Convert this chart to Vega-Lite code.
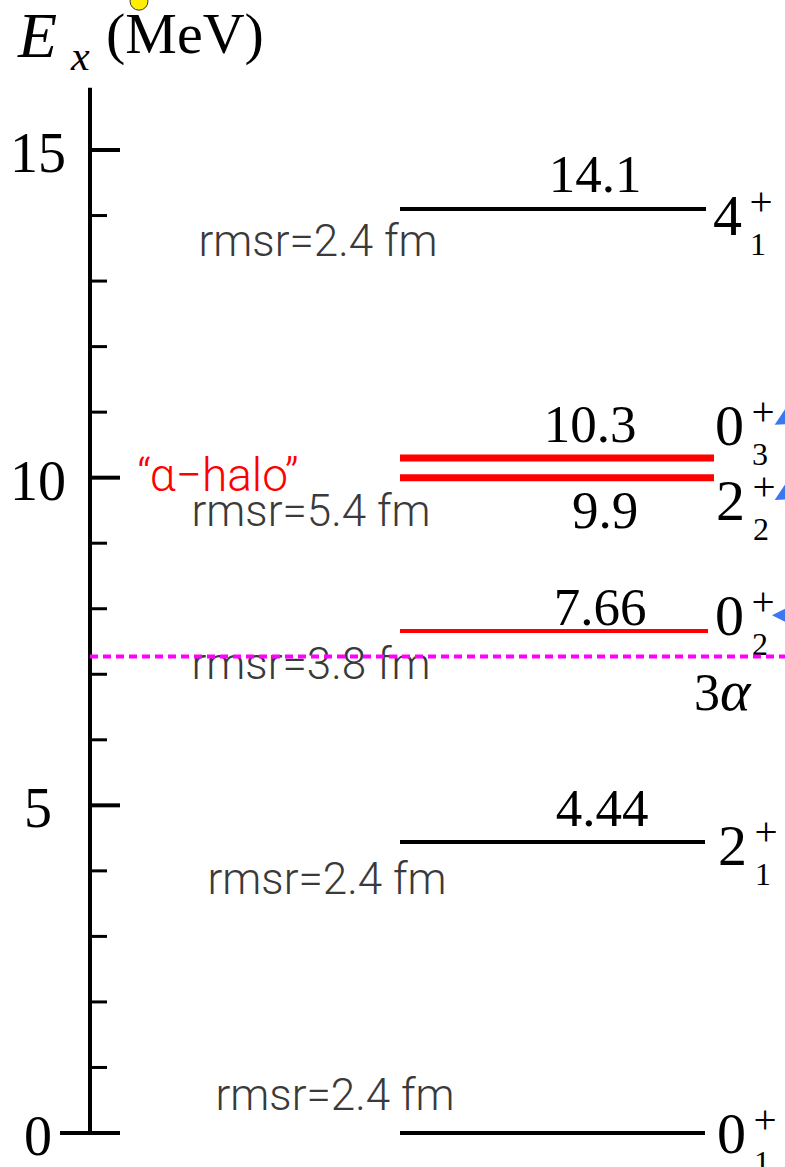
{
  "$schema": "https://vega.github.io/schema/vega-lite/v6.json",
  "width": 785,
  "height": 1167,
  "autosize": {"type": "none"},
  "padding": 0,
  "background": "white",
  "config": {"view": {"stroke": null}},
  "datasets": {
    "levels": [
      {"state": "0_1+", "E": 0, "xs": 400, "xe": 705, "group": "compact"},
      {"state": "2_1+", "E": 4.44, "xs": 400, "xe": 705, "group": "compact"},
      {"state": "0_2+", "E": 7.66, "xs": 400, "xe": 708, "group": "hoyle"},
      {"state": "2_2+", "E": 10.0, "xs": 400, "xe": 714, "group": "halo"},
      {"state": "0_3+", "E": 10.3, "xs": 400, "xe": 714, "group": "halo"},
      {"state": "4_1+", "E": 14.1, "xs": 400, "xe": 706, "group": "compact"}
    ],
    "values": [
      {"text": "14.1", "E": 14.36, "x": 595},
      {"text": "10.3", "E": 10.54, "x": 590},
      {"text": "9.9", "E": 9.23, "x": 605},
      {"text": "7.66", "E": 7.75, "x": 600},
      {"text": "4.44", "E": 4.68, "x": 602}
    ],
    "spins": [
      {"J": "4", "n": "1", "E": 13.70, "x": 713},
      {"J": "0", "n": "3", "E": 10.50, "x": 715},
      {"J": "2", "n": "2", "E": 9.35, "x": 716},
      {"J": "0", "n": "2", "E": 7.60, "x": 715},
      {"J": "2", "n": "1", "E": 4.09, "x": 718},
      {"J": "0", "n": "1", "E": -0.30, "x": 717}
    ],
    "rmsr": [
      {"text": "rmsr=2.4  fm", "E": 13.58, "x": 318},
      {"text": "rmsr=5.4  fm", "E": 9.46, "x": 311},
      {"text": "rmsr=3.8  fm", "E": 7.13, "x": 311},
      {"text": "rmsr=2.4  fm", "E": 3.85, "x": 327},
      {"text": "rmsr=2.4  fm", "E": 0.55, "x": 335}
    ],
    "major": [
      {"v": 0, "lab": "0", "from": 60},
      {"v": 5, "lab": "5", "from": 90},
      {"v": 10, "lab": "10", "from": 90},
      {"v": 15, "lab": "15", "from": 90}
    ],
    "minor": [{"v": 1}, {"v": 2}, {"v": 3}, {"v": 4}, {"v": 6}, {"v": 7}, {"v": 8}, {"v": 9}, {"v": 11}, {"v": 12}, {"v": 13}, {"v": 14}],
    "arrows": [
      {"E": 10.96, "x": 792, "dir": "down"},
      {"E": 9.81, "x": 792, "dir": "down"},
      {"E": 7.90, "x": 792, "dir": "left"}
    ]
  },
  "layer": [
    {
      "data": {"values": [{"x": 90, "E0": 0, "E1": 15.95}]},
      "mark": {"type": "rule", "strokeWidth": 4, "color": "black"},
      "encoding": {
        "x": {"field": "x", "type": "quantitative", "scale": {"domain": [0, 785]}, "axis": null},
        "y": {"field": "E0", "type": "quantitative", "scale": {"domain": [-0.5188, 17.289]}, "axis": null},
        "y2": {"field": "E1"}
      }
    },
    {
      "data": {"name": "major"},
      "mark": {"type": "rule", "strokeWidth": 4, "color": "black"},
      "encoding": {
        "x": {"field": "from", "type": "quantitative", "scale": {"domain": [0, 785]}, "axis": null},
        "x2": {"datum": 120},
        "y": {"field": "v", "type": "quantitative", "scale": {"domain": [-0.5188, 17.289]}, "axis": null}
      }
    },
    {
      "data": {"name": "minor"},
      "mark": {"type": "rule", "strokeWidth": 3, "color": "black"},
      "encoding": {
        "x": {"datum": 90, "type": "quantitative", "scale": {"domain": [0, 785]}, "axis": null},
        "x2": {"datum": 107},
        "y": {"field": "v", "type": "quantitative", "scale": {"domain": [-0.5188, 17.289]}, "axis": null}
      }
    },
    {
      "data": {"name": "major"},
      "mark": {"type": "text", "font": "Liberation Serif", "fontSize": 56, "align": "center", "baseline": "middle", "dy": 5, "color": "black"},
      "encoding": {
        "x": {"datum": 38, "type": "quantitative", "scale": {"domain": [0, 785]}, "axis": null},
        "y": {"field": "v", "type": "quantitative", "scale": {"domain": [-0.5188, 17.289]}, "axis": null},
        "text": {"field": "lab"}
      }
    },
    {
      "data": {"name": "levels"},
      "transform": [{"filter": "datum.group === 'compact'"}],
      "mark": {"type": "rule", "strokeWidth": 4, "color": "black"},
      "encoding": {
        "x": {"field": "xs", "type": "quantitative", "scale": {"domain": [0, 785]}, "axis": null},
        "x2": {"field": "xe"},
        "y": {"field": "E", "type": "quantitative", "scale": {"domain": [-0.5188, 17.289]}, "axis": null}
      }
    },
    {
      "data": {"name": "levels"},
      "transform": [{"filter": "datum.group === 'hoyle'"}],
      "mark": {"type": "rule", "strokeWidth": 4, "color": "#ff0000"},
      "encoding": {
        "x": {"field": "xs", "type": "quantitative", "scale": {"domain": [0, 785]}, "axis": null},
        "x2": {"field": "xe"},
        "y": {"field": "E", "type": "quantitative", "scale": {"domain": [-0.5188, 17.289]}, "axis": null}
      }
    },
    {
      "data": {"name": "levels"},
      "transform": [{"filter": "datum.group === 'halo'"}],
      "mark": {"type": "rule", "strokeWidth": 7, "color": "#ff0000"},
      "encoding": {
        "x": {"field": "xs", "type": "quantitative", "scale": {"domain": [0, 785]}, "axis": null},
        "x2": {"field": "xe"},
        "y": {"field": "E", "type": "quantitative", "scale": {"domain": [-0.5188, 17.289]}, "axis": null}
      }
    },
    {
      "data": {"name": "values"},
      "mark": {"type": "text", "font": "Liberation Serif", "fontSize": 53, "align": "center", "baseline": "alphabetic", "color": "black"},
      "encoding": {
        "x": {"field": "x", "type": "quantitative", "scale": {"domain": [0, 785]}, "axis": null},
        "y": {"field": "E", "type": "quantitative", "scale": {"domain": [-0.5188, 17.289]}, "axis": null},
        "text": {"field": "text"}
      }
    },
    {
      "data": {"name": "spins"},
      "mark": {"type": "text", "font": "Liberation Serif", "fontSize": 58, "align": "left", "baseline": "alphabetic", "color": "black"},
      "encoding": {
        "x": {"field": "x", "type": "quantitative", "scale": {"domain": [0, 785]}, "axis": null},
        "y": {"field": "E", "type": "quantitative", "scale": {"domain": [-0.5188, 17.289]}, "axis": null},
        "text": {"field": "J"}
      }
    },
    {
      "data": {"name": "spins"},
      "mark": {"type": "text", "font": "Liberation Serif", "fontSize": 41, "align": "center", "baseline": "middle", "dx": 48, "dy": -32, "color": "black"},
      "encoding": {
        "x": {"field": "x", "type": "quantitative", "scale": {"domain": [0, 785]}, "axis": null},
        "y": {"field": "E", "type": "quantitative", "scale": {"domain": [-0.5188, 17.289]}, "axis": null},
        "text": {"value": "+"}
      }
    },
    {
      "data": {"name": "spins"},
      "mark": {"type": "text", "font": "Liberation Serif", "fontSize": 32, "align": "center", "baseline": "middle", "dx": 45, "dy": 10, "color": "black"},
      "encoding": {
        "x": {"field": "x", "type": "quantitative", "scale": {"domain": [0, 785]}, "axis": null},
        "y": {"field": "E", "type": "quantitative", "scale": {"domain": [-0.5188, 17.289]}, "axis": null},
        "text": {"field": "n"}
      }
    },
    {
      "data": {"values": [{"t": "3", "x": 694, "E": 6.455}]},
      "mark": {"type": "text", "font": "Liberation Serif", "fontSize": 52, "align": "left", "baseline": "alphabetic", "color": "black"},
      "encoding": {
        "x": {"field": "x", "type": "quantitative", "scale": {"domain": [0, 785]}, "axis": null},
        "y": {"field": "E", "type": "quantitative", "scale": {"domain": [-0.5188, 17.289]}, "axis": null},
        "text": {"field": "t"}
      }
    },
    {
      "data": {"values": [{"t": "α", "x": 720, "E": 6.455}]},
      "mark": {"type": "text", "font": "Liberation Serif", "fontSize": 58, "fontStyle": "italic", "align": "left", "baseline": "alphabetic", "color": "black"},
      "encoding": {
        "x": {"field": "x", "type": "quantitative", "scale": {"domain": [0, 785]}, "axis": null},
        "y": {"field": "E", "type": "quantitative", "scale": {"domain": [-0.5188, 17.289]}, "axis": null},
        "text": {"field": "t"}
      }
    },
    {
      "data": {"name": "rmsr"},
      "mark": {"type": "text", "font": "Roboto", "fontWeight": 300, "fontSize": 44, "align": "center", "baseline": "middle", "color": "#3a3a3a"},
      "encoding": {
        "x": {"field": "x", "type": "quantitative", "scale": {"domain": [0, 785]}, "axis": null},
        "y": {"field": "E", "type": "quantitative", "scale": {"domain": [-0.5188, 17.289]}, "axis": null},
        "text": {"field": "text"}
      }
    },
    {
      "data": {"values": [{"t": "“α−halo”", "x": 218, "E": 10.01}]},
      "mark": {"type": "text", "font": "Roboto", "fontWeight": 300, "fontSize": 46, "align": "center", "baseline": "middle", "color": "#ff0000"},
      "encoding": {
        "x": {"field": "x", "type": "quantitative", "scale": {"domain": [0, 785]}, "axis": null},
        "y": {"field": "E", "type": "quantitative", "scale": {"domain": [-0.5188, 17.289]}, "axis": null},
        "text": {"field": "t"}
      }
    },
    {
      "data": {"values": [{"E": 7.27, "xs": 90, "xe": 785}]},
      "mark": {"type": "rule", "strokeWidth": 4, "color": "#ff00ff", "strokeDash": [8, 5]},
      "encoding": {
        "x": {"field": "xs", "type": "quantitative", "scale": {"domain": [0, 785]}, "axis": null},
        "x2": {"field": "xe"},
        "y": {"field": "E", "type": "quantitative", "scale": {"domain": [-0.5188, 17.289]}, "axis": null}
      }
    },
    {
      "data": {"values": [{"t": "E", "x": 18, "E": 16.42}]},
      "mark": {"type": "text", "font": "Liberation Serif", "fontSize": 64, "fontStyle": "italic", "align": "left", "baseline": "alphabetic", "color": "black"},
      "encoding": {
        "x": {"field": "x", "type": "quantitative", "scale": {"domain": [0, 785]}, "axis": null},
        "y": {"field": "E", "type": "quantitative", "scale": {"domain": [-0.5188, 17.289]}, "axis": null},
        "text": {"field": "t"}
      }
    },
    {
      "data": {"values": [{"t": "x", "x": 71, "E": 16.22}]},
      "mark": {"type": "text", "font": "Liberation Serif", "fontSize": 42, "fontStyle": "italic", "align": "left", "baseline": "alphabetic", "color": "black"},
      "encoding": {
        "x": {"field": "x", "type": "quantitative", "scale": {"domain": [0, 785]}, "axis": null},
        "y": {"field": "E", "type": "quantitative", "scale": {"domain": [-0.5188, 17.289]}, "axis": null},
        "text": {"field": "t"}
      }
    },
    {
      "data": {"values": [{"t": "(MeV)", "x": 106, "E": 16.48}]},
      "mark": {"type": "text", "font": "Liberation Serif", "fontSize": 58, "align": "left", "baseline": "alphabetic", "color": "black"},
      "encoding": {
        "x": {"field": "x", "type": "quantitative", "scale": {"domain": [0, 785]}, "axis": null},
        "y": {"field": "E", "type": "quantitative", "scale": {"domain": [-0.5188, 17.289]}, "axis": null},
        "text": {"field": "t"}
      }
    },
    {
      "data": {"values": [{"x": 139, "E": 17.27}]},
      "mark": {"type": "point", "shape": "circle", "filled": true, "size": 320, "color": "#ffee00", "stroke": "#333333", "strokeWidth": 1, "opacity": 1},
      "encoding": {
        "x": {"field": "x", "type": "quantitative", "scale": {"domain": [0, 785]}, "axis": null},
        "y": {"field": "E", "type": "quantitative", "scale": {"domain": [-0.5188, 17.289]}, "axis": null}
      }
    },
    {
      "data": {"name": "arrows"},
      "transform": [{"filter": "datum.dir === 'down'"}],
      "mark": {"type": "point", "shape": "M -1,0 L 1,-1 L 1,1 Z", "filled": true, "size": 1600, "angle": -30, "color": "#3b78f0", "opacity": 1},
      "encoding": {
        "x": {"field": "x", "type": "quantitative", "scale": {"domain": [0, 785]}, "axis": null},
        "y": {"field": "E", "type": "quantitative", "scale": {"domain": [-0.5188, 17.289]}, "axis": null}
      }
    },
    {
      "data": {"name": "arrows"},
      "transform": [{"filter": "datum.dir === 'left'"}],
      "mark": {"type": "point", "shape": "M -1,0 L 1,-1 L 1,1 Z", "filled": true, "size": 1600, "color": "#3b78f0", "opacity": 1},
      "encoding": {
        "x": {"field": "x", "type": "quantitative", "scale": {"domain": [0, 785]}, "axis": null},
        "y": {"field": "E", "type": "quantitative", "scale": {"domain": [-0.5188, 17.289]}, "axis": null}
      }
    }
  ]
}
